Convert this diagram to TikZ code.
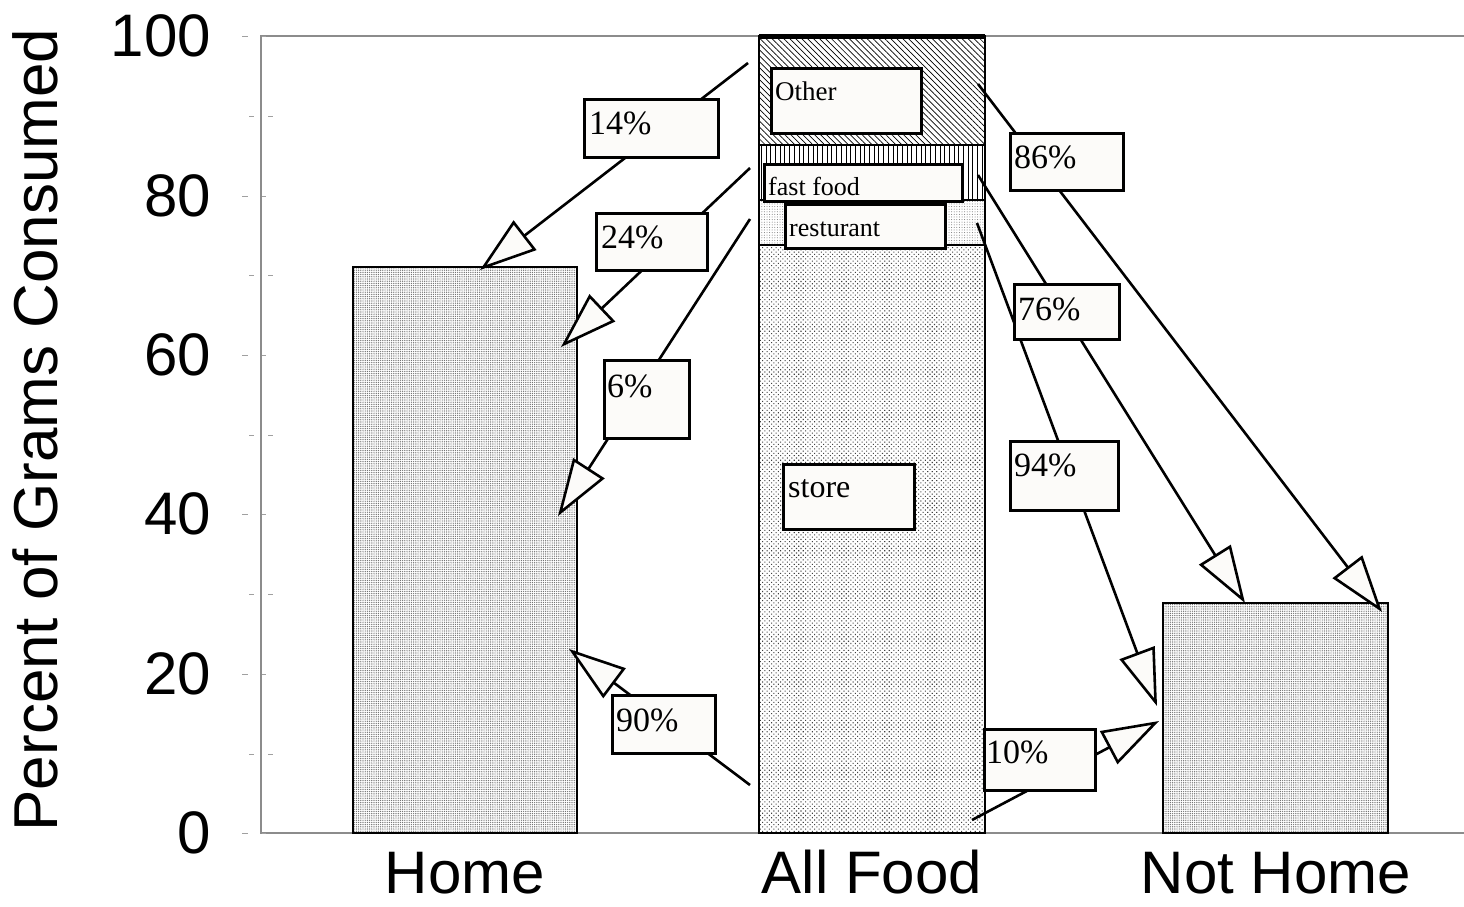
\documentclass[tikz,border=0pt]{standalone}
\usepackage{fontspec}
\setmainfont{Liberation Serif}
\newfontfamily\arialf{Liberation Sans}
\usetikzlibrary{arrows.meta,patterns.meta,calc}
\definecolor{boxfill}{RGB}{252,251,249}
\definecolor{framegray}{RGB}{140,140,140}
\definecolor{tickgray}{RGB}{160,160,160}
\begin{document}
\begin{tikzpicture}[x=1pt,y=-1pt,
  pbox/.style={draw=black, line width=2.6pt, fill=boxfill, inner sep=0pt, anchor=north west},
  ptext/.style={inner sep=0pt, anchor=base west, font=\fontsize{34}{40}\selectfont},
  stext/.style={inner sep=0pt, anchor=base west, font=\fontsize{26}{30}\selectfont},
  arr/.style={line width=2.6pt, -{Triangle[length=57pt,width=37pt,fill=boxfill,line join=miter]}},
  barline/.style={draw=black, line width=2.6pt},
  segline/.style={draw=black, line width=1.2pt},
  ticklab/.style={inner sep=0pt, anchor=east, font=\arialf\fontsize{60}{70}\selectfont},
  catlab/.style={inner sep=0pt, anchor=base, font=\arialf\fontsize{60}{70}\selectfont},
  majtick/.style={draw=tickgray, line width=1pt},
  homepat/.style={pattern={Dots[radius=0.7pt,distance=2.2pt]}, pattern color=black!55},
  storepat/.style={pattern={Dots[radius=0.75pt,distance=3.2pt,angle=45]}, pattern color=black!75},
  restpat/.style={pattern={Dots[radius=0.5pt,distance=2.6pt]}, pattern color=black!55},
  fastpat/.style={pattern={Lines[angle=90,distance=4.7pt,line width=0.9pt]}, pattern color=black},
  otherpat/.style={pattern={Lines[angle=-45,distance=4.2pt,line width=0.7pt]}, pattern color=black}
]
\useasboundingbox (0,0) rectangle (1464,906);
\fill[white] (0,0) rectangle (1464,906);

% frame
\draw[framegray, line width=2.2pt] (1464,36) -- (261,36) -- (261,833) -- (1464,833);
% ticks
\foreach \yy in {36,196,355,514,674,833} {
  \draw[majtick] (242,\yy) -- (248,\yy);
  \draw[majtick] (262,\yy) -- (266,\yy);
}
\foreach \yy in {116,275,435,594,754} {
  \draw[majtick] (249,\yy) -- (254,\yy);
  \draw[majtick] (268,\yy) -- (273,\yy);
}
% tick labels
\node[ticklab] (l100) at (211,36) {100};
\node[ticklab] (l80) at (211,196) {80};
\node[ticklab] (l60) at (211,355) {60};
\node[ticklab] (l40) at (211,514) {40};
\node[ticklab] (l20) at (211,674) {20};
\node[ticklab] (l0) at (211,833) {0};
% axis title
\node[inner sep=0pt, anchor=base, rotate=90, font=\arialf\fontsize{62}{72}\selectfont] (ytitle) at (57,430) {Percent of Grams Consumed};
% category labels
\node[catlab] (chome) at (465,893) {Home};
\node[catlab] (call) at (872,893) {All Food};
\node[catlab] (cnot) at (1276,893) {Not Home};

% bars
\draw[barline, preaction={fill=white}, homepat] (353,267) rectangle (577,833);
\draw[barline, preaction={fill=white}, homepat] (1163,603) rectangle (1388,833);
% all food stacked
\path[fill=white] (759,36) rectangle (985,833);
\draw[segline, storepat] (759,245) rectangle (985,833);
\draw[segline, restpat] (759,200) rectangle (985,245);
\draw[segline, fastpat] (759,145) rectangle (985,200);
\draw[segline, otherpat] (759,38) rectangle (985,145);
\draw[barline] (759,36) rectangle (985,833);
\fill[black] (759,34) rectangle (985,39);

% arrow end points
\coordinate (s14) at (748,63);   \coordinate (e14) at (480,270);
\coordinate (s24) at (750,168);  \coordinate (e24) at (561,347);
\coordinate (s6)  at (750,219);  \coordinate (e6)  at (558,516);
\coordinate (s90) at (750,785);  \coordinate (e90) at (569,649);
\coordinate (s10) at (972,820);  \coordinate (e10) at (1159,721);
\coordinate (s94) at (977,223);  \coordinate (e94) at (1157,706);
\coordinate (s76) at (978,175);  \coordinate (e76) at (1245,603);
\coordinate (s86) at (978,84);   \coordinate (e86) at (1382,612);
\foreach \k in {14,24,6,90,10,94,76,86} {
  \draw[arr] (s\k) -- (e\k);
}

% segment label boxes
\node[pbox, minimum width=150pt, minimum height=65pt] (bother) at (770,67) {};
\node[stext, font=\fontsize{27}{30}\selectfont] (tother) at (775,100) {Other};
\node[pbox, minimum width=198pt, minimum height=37pt] (bfast) at (763,163) {};
\node[stext] (tfast) at (768,195) {fast food};
\node[pbox, minimum width=160pt, minimum height=44pt] (brest) at (784,203) {};
\node[stext] (trest) at (789,236) {resturant};
\node[pbox, minimum width=131pt, minimum height=65pt] (bstore) at (782,463) {};
\node[stext, font=\fontsize{32}{36}\selectfont] (tstore) at (788,497) {store};

% percent boxes
\node[pbox, minimum width=134pt, minimum height=58pt] (b14) at (583,98) {};
\node[ptext] (t14) at (589,134) {14\%};
\node[pbox, minimum width=111pt, minimum height=57pt] (b24) at (595,212) {};
\node[ptext] (t24) at (601,248) {24\%};
\node[pbox, minimum width=85pt, minimum height=78pt] (b6) at (603,359) {};
\node[ptext] (t6) at (607,397) {6\%};
\node[pbox, minimum width=103pt, minimum height=58pt] (b90) at (611,694) {};
\node[ptext] (t90) at (616,731) {90\%};
\node[pbox, minimum width=111pt, minimum height=61pt] (b10) at (983,728) {};
\node[ptext] (t10) at (986,763) {10\%};
\node[pbox, minimum width=108pt, minimum height=69pt] (b94) at (1009,440) {};
\node[ptext] (t94) at (1014,476) {94\%};
\node[pbox, minimum width=113pt, minimum height=57pt] (b86) at (1009,132) {};
\node[ptext] (t86) at (1014,168) {86\%};
\node[pbox, minimum width=105pt, minimum height=55pt] (b76) at (1013,283) {};
\node[ptext] (t76) at (1018,320) {76\%};
\end{tikzpicture}
\end{document}
